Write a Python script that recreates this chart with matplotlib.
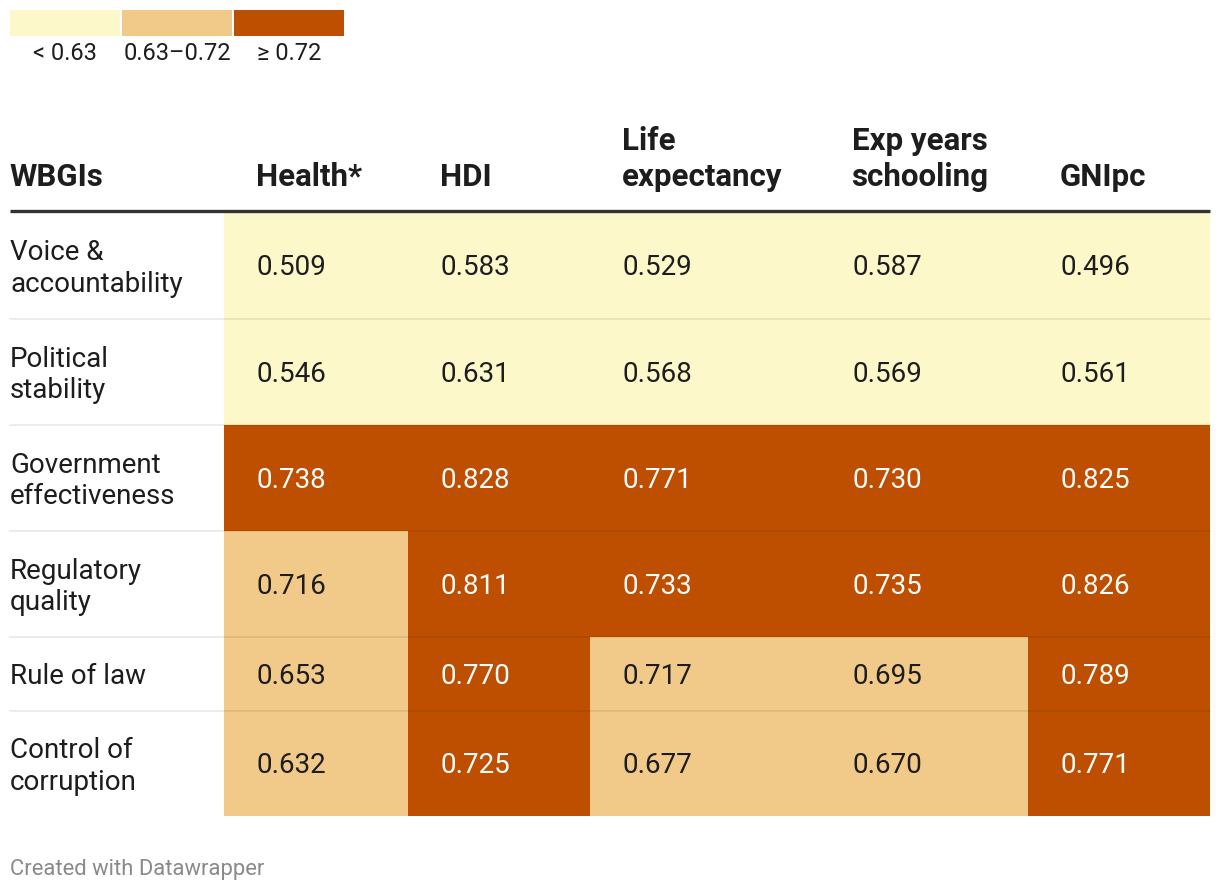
import numpy as np
import matplotlib.pyplot as plt
from matplotlib.patches import Rectangle

plt.rcParams['font.family'] = ['Roboto', 'DejaVu Sans']

# data
rows = ['Voice &\naccountability', 'Political\nstability', 'Government\neffectiveness',
        'Regulatory\nquality', 'Rule of law', 'Control of\ncorruption']
cols = ['Health*', 'HDI', 'Life\nexpectancy', 'Exp years\nschooling', 'GNIpc']
values = np.array([
    [0.509, 0.583, 0.529, 0.587, 0.496],
    [0.546, 0.631, 0.568, 0.569, 0.561],
    [0.738, 0.828, 0.771, 0.730, 0.825],
    [0.716, 0.811, 0.733, 0.735, 0.826],
    [0.653, 0.770, 0.717, 0.695, 0.789],
    [0.632, 0.725, 0.677, 0.670, 0.771],
])
# 0.631 falls in the lowest bin in the original (unrounded value just under the cut)
bins = [0.6315, 0.72]
legend_labels = ['< 0.63', '0.63\u20130.72', '\u2265 0.72']
colors = ['#fdf8c9', '#f1ca89', '#be4f00']
text_colors = ['#1d1d1d', '#1d1d1d', '#ffffff']

# layout (pixels)
W, H = 1220, 892
col_x = [224, 408, 590, 820, 1028, 1210]
row_y = [212, 319, 425, 531, 637, 711, 816]

fig = plt.figure(figsize=(W / 100, H / 100), dpi=100)
ax = fig.add_axes([0, 0, 1, 1])
ax.set_xlim(0, W)
ax.set_ylim(H, 0)
ax.axis('off')

# legend
for i, (c, lab) in enumerate(zip(colors, legend_labels)):
    x0 = 10 + i * 112
    ax.add_patch(Rectangle((x0, 10), 110, 26, color=c, lw=0))
    ax.text(x0 + 55, 53, lab, ha='center', va='center', fontsize=17, color='#1d1d1d')

# header
ax.text(9, 192, 'WBGIs', ha='left', va='bottom', fontsize=22.5, fontweight='bold',
        color='#1d1d1d')
for j, c in enumerate(cols):
    ax.text(col_x[j] + 31.5, 192, c, ha='left', va='bottom', fontsize=22.5,
            fontweight='bold', color='#1d1d1d', linespacing=1.25)
ax.plot([10, 1210], [211, 211], color='#333333', lw=2.4, solid_capstyle='butt')

# cells
for i in range(len(rows)):
    y0, y1 = row_y[i], row_y[i + 1]
    yc = (y0 + y1) / 2 + 2
    ax.text(10, yc + 1, rows[i], ha='left', va='center', fontsize=20,
            color='#1d1d1d', linespacing=1.2)
    for j in range(len(cols)):
        v = values[i, j]
        k = int(np.digitize(v, bins))
        ax.add_patch(Rectangle((col_x[j], y0), col_x[j + 1] - col_x[j], y1 - y0,
                               color=colors[k], lw=0))
        ax.text(col_x[j] + 33, yc, f'{v:.3f}', ha='left', va='center',
                fontsize=20, color=text_colors[k])
    if i < len(rows) - 1:
        ax.plot([10, 1210], [y1, y1], color='black', alpha=0.09, lw=1.2)

# footer
ax.text(10, 870, 'Created with Datawrapper', ha='left', va='center', fontsize=15.8,
        color='#8a8a8a')

fig.savefig('out.png', dpi=100)
